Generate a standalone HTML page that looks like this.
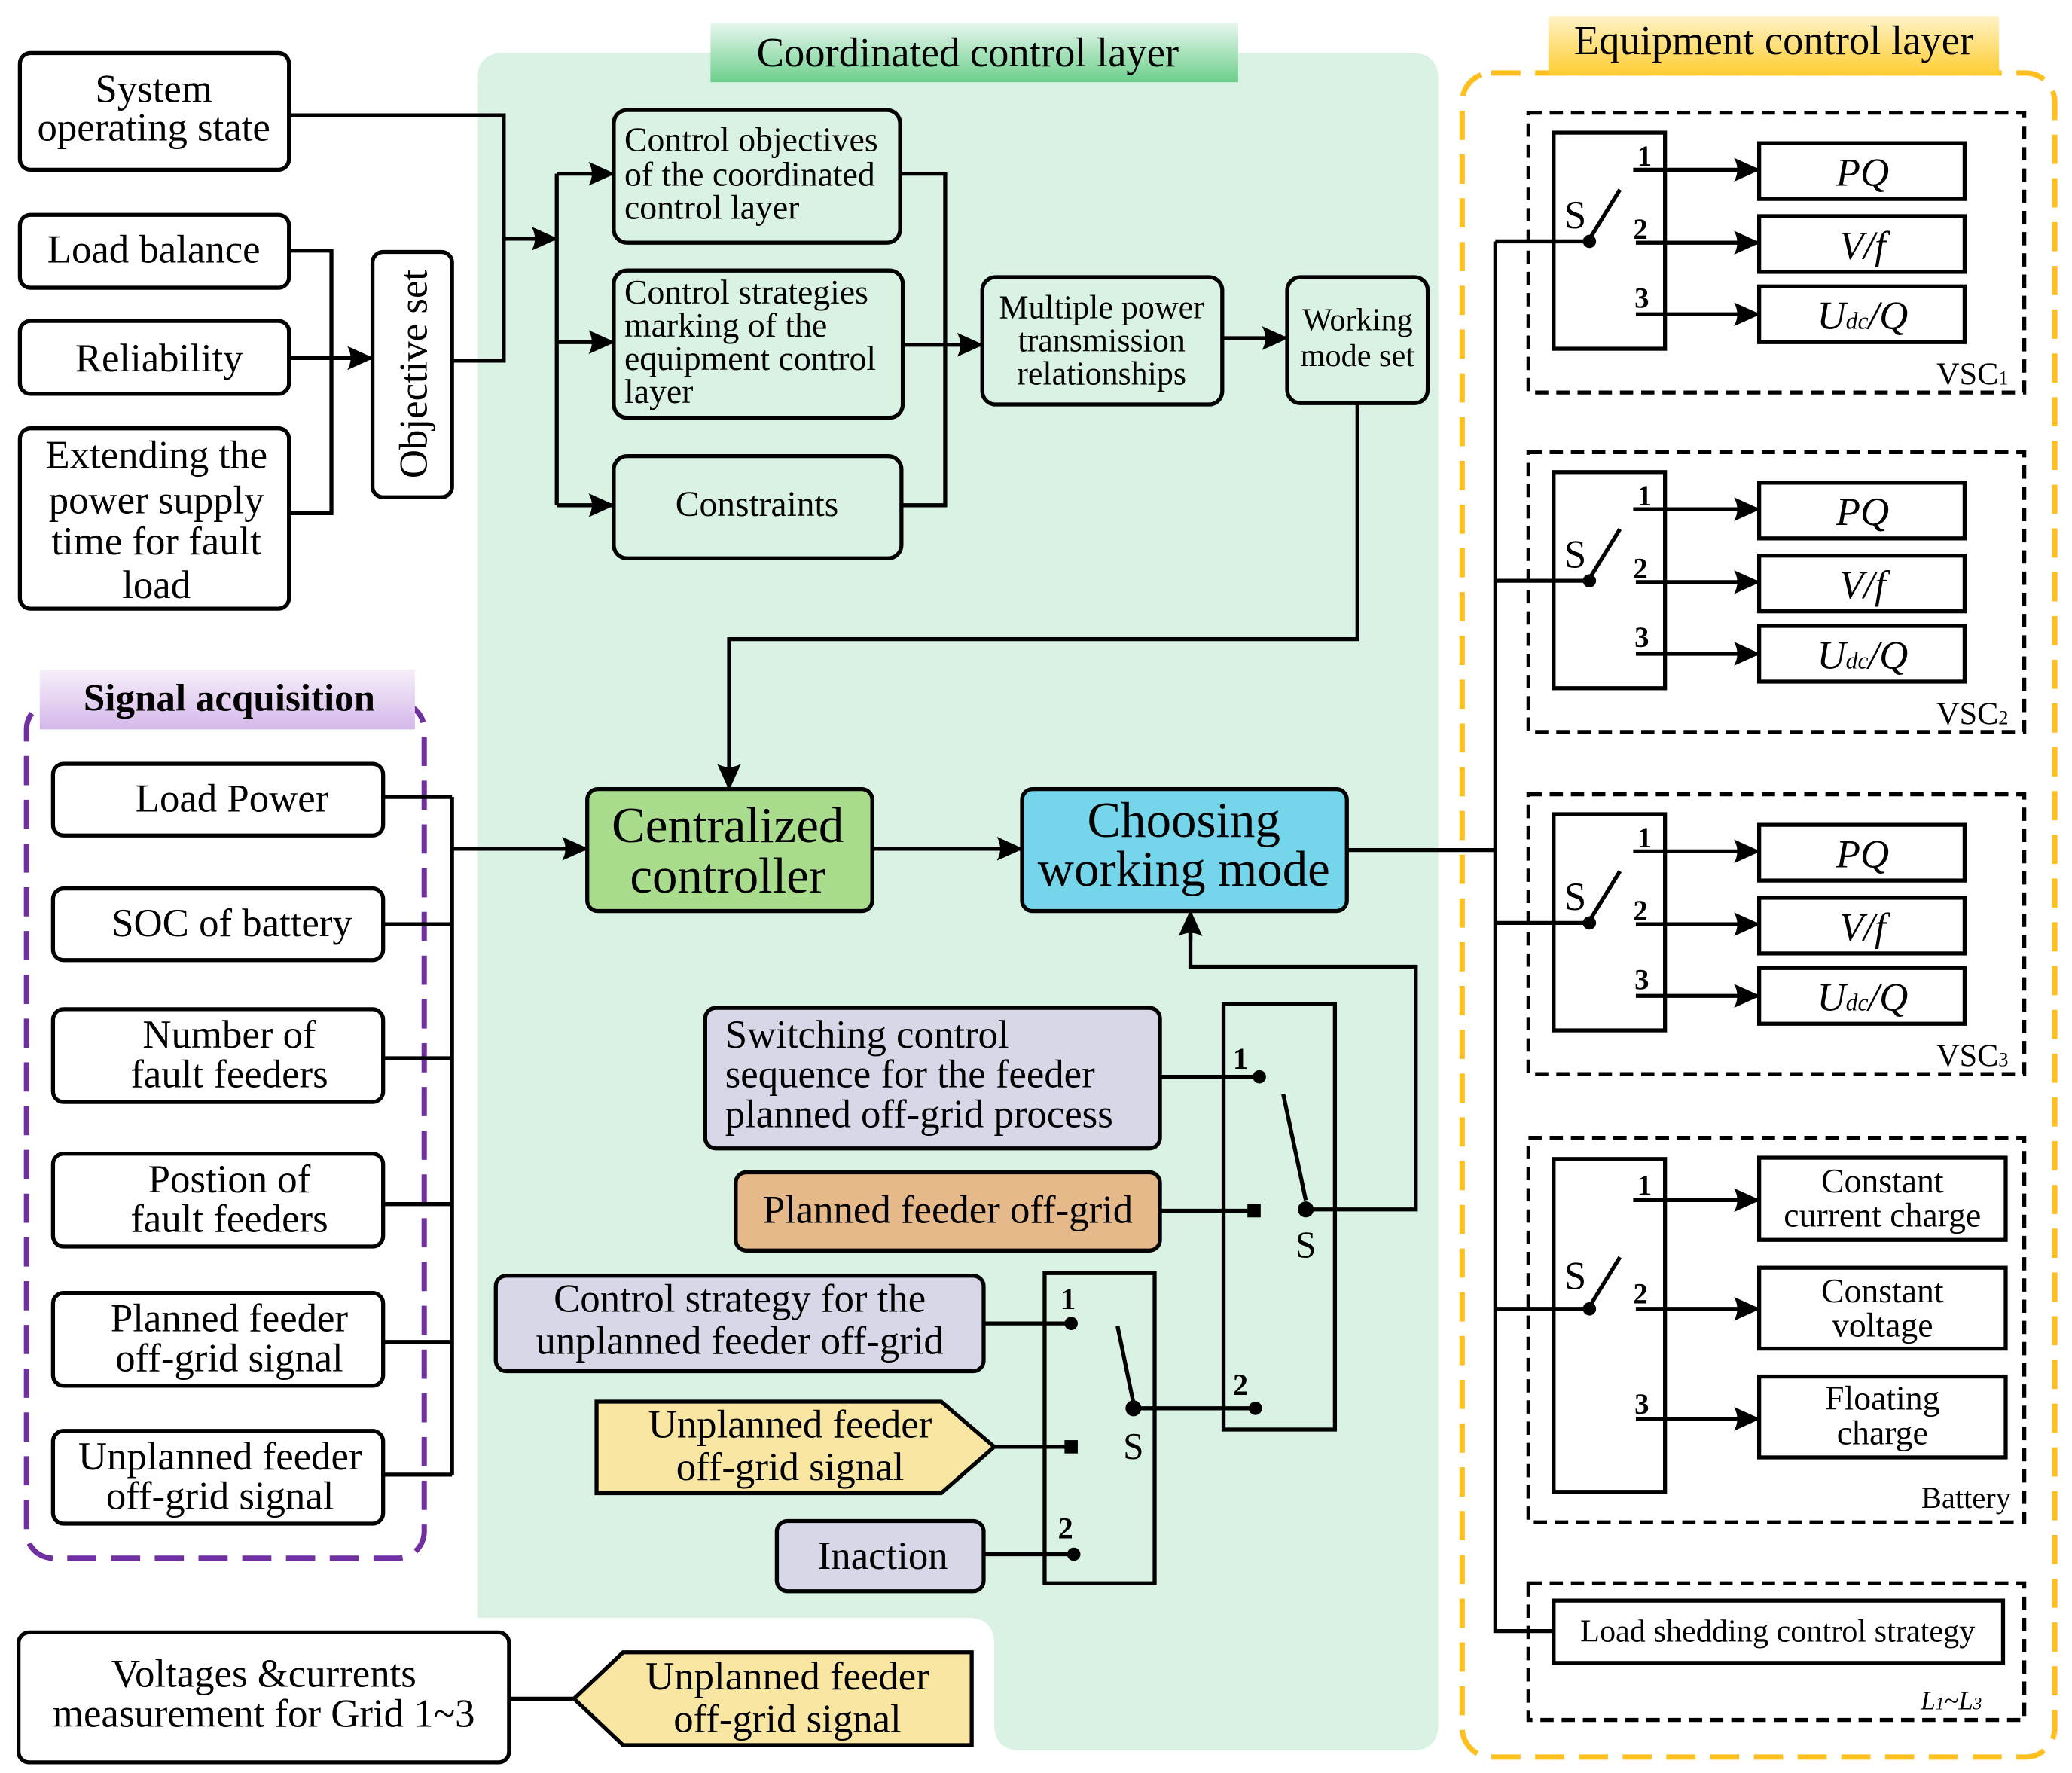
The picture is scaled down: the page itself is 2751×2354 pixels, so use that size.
<!DOCTYPE html>
<html><head><meta charset="utf-8"><style>
html,body{margin:0;padding:0;background:#fff}
svg{display:block}
text{font-family:"Liberation Serif","Times New Roman",serif;fill:#000}
</style></head><body>
<svg width="2751" height="2354" viewBox="0 0 1563 1337" preserveAspectRatio="none" xmlns="http://www.w3.org/2000/svg">
<defs>
<marker id="a" markerWidth="20" markerHeight="18" refX="19" refY="9" orient="auto" markerUnits="userSpaceOnUse" viewBox="0 0 20 18">
<path d="M0,0 L20,9 L0,18 Q5,9 0,0Z" fill="#000"/></marker>
<linearGradient id="gg" x1="0" y1="0" x2="0" y2="1"><stop offset="0" stop-color="#e8f7ee"/><stop offset="1" stop-color="#6ccf8c"/></linearGradient>
<linearGradient id="gy" x1="0" y1="0" x2="0" y2="1"><stop offset="0" stop-color="#fff3c8"/><stop offset="1" stop-color="#ffcc30"/></linearGradient>
<linearGradient id="gp" x1="0" y1="0" x2="0" y2="1"><stop offset="0" stop-color="#f6effa"/><stop offset="1" stop-color="#d5b8ea"/></linearGradient>
</defs>
<g stroke-linejoin="miter">
<path d="M380,40 H1065 Q1085,40 1085,60 V1300 Q1085,1320 1065,1320 H770 Q750,1320 750,1300 V1240 Q750,1220 730,1220 H360 V60 Q360,40 380,40Z" fill="#d9f2e3"/>
<rect x="536" y="17" width="398" height="45" fill="url(#gg)"/>
<text x="730" y="50" font-size="31" text-anchor="middle">Coordinated control layer</text>

<rect x="1103" y="55" width="447" height="1270" rx="22" fill="none" stroke="#ffbf1f" stroke-width="4" stroke-dasharray="22,11"/>
<rect x="1168" y="12" width="340" height="45" fill="url(#gy)"/>
<text x="1338" y="41" font-size="31" text-anchor="middle">Equipment control layer</text>

<rect x="20" y="530" width="300" height="645" rx="20" fill="none" stroke="#7030a0" stroke-width="4" stroke-dasharray="22,11"/>
<rect x="30" y="505" width="283" height="45" fill="url(#gp)"/>
<text x="173" y="536" font-size="29" font-weight="bold" text-anchor="middle">Signal acquisition</text>

<g fill="#fff" stroke="#000" stroke-width="3">
<rect x="15" y="40" width="203" height="88" rx="8"/>
<rect x="15" y="162" width="203" height="55" rx="8"/>
<rect x="15" y="242" width="203" height="55" rx="8"/>
<rect x="15" y="323" width="203" height="136" rx="8"/>
<rect x="281" y="190" width="60" height="185" rx="8"/>
<rect x="40" y="576" width="249" height="54" rx="8"/>
<rect x="40" y="670" width="249" height="54" rx="8"/>
<rect x="40" y="761" width="249" height="70" rx="8"/>
<rect x="40" y="870" width="249" height="70" rx="8"/>
<rect x="40" y="975" width="249" height="70" rx="8"/>
<rect x="40" y="1079" width="249" height="70" rx="8"/>
<rect x="14" y="1231" width="370" height="98" rx="8"/>
</g>
<g fill="none" stroke="#000" stroke-width="3">
<rect x="463" y="83" width="216" height="100" rx="10"/>
<rect x="463" y="204" width="218" height="111" rx="10"/>
<rect x="463" y="344" width="217" height="77" rx="10"/>
<rect x="741" y="209" width="181" height="96" rx="10"/>
<rect x="971" y="209" width="106" height="95" rx="10"/>
<rect x="443" y="595" width="215" height="92" rx="8" fill="#a9dc8d"/>
<rect x="771" y="595" width="245" height="92" rx="8" fill="#75d5ea"/>
<rect x="532" y="760" width="343" height="106" rx="8" fill="#d7d7e8"/>
<rect x="555" y="884" width="320" height="59" rx="8" fill="#e6b98b"/>
<rect x="374" y="962" width="368" height="72" rx="8" fill="#d7d7e8"/>
<path d="M450,1057 H710 L750,1091 L710,1126 H450Z" fill="#f8e6a2"/>
<rect x="586" y="1147" width="156" height="53" rx="8" fill="#d7d7e8"/>
<path d="M433,1281 L470,1246 H733 V1316 H470Z" fill="#f8e6a2"/>
<rect x="923" y="757" width="84" height="321"/>
<rect x="788" y="960" width="83" height="234"/>
</g>

<g fill="none" stroke="#000" stroke-width="3">
<path d="M218,87 H380 V272 H341"/>
<path d="M380,180 H420" marker-end="url(#a)"/>
<path d="M420,131 V381"/>
<path d="M420,131 H463" marker-end="url(#a)"/>
<path d="M420,258 H463" marker-end="url(#a)"/>
<path d="M420,381 H463" marker-end="url(#a)"/>
<path d="M218,189 H250 V387 H218"/>
<path d="M218,270 H281" marker-end="url(#a)"/>
<path d="M679,131 H713 V381 H680"/>
<path d="M681,260 H741" marker-end="url(#a)"/>
<path d="M922,255 H971" marker-end="url(#a)"/>
<path d="M1024,304 V482 H550 V595" marker-end="url(#a)"/>
<path d="M289,601 H341 M289,697 H341 M289,798 H341 M289,908 H341 M289,1012 H341 M289,1112 H341 M341,601 V1112"/>
<path d="M341,640 H443" marker-end="url(#a)"/>
<path d="M658,640 H771" marker-end="url(#a)"/>
<path d="M1016,641 H1128 M1128,182 V1230 H1172"/>
<path d="M875,812 H950 M875,913 H946 M968,825 L985,905 M985,912 H1068 V729 H898 V700" />
<path d="M898,710 V687" marker-end="url(#a)"/>
<path d="M855,1062 H947 M742,998 H808 M750,1091 H808 M742,1172 H810 M843,1000 L855,1058"/>
<path d="M384,1281 H433"/>
</g>
<g fill="#000">
<circle cx="950" cy="812" r="5"/><rect x="941" y="908" width="10" height="10"/><circle cx="985" cy="912" r="6"/><circle cx="947" cy="1062" r="5"/>
<circle cx="808" cy="998" r="5"/><rect x="803" y="1086" width="10" height="10"/><circle cx="810" cy="1172" r="5"/><circle cx="855" cy="1062" r="6"/>
</g>
<g font-size="23" font-weight="bold">
<text x="930" y="806">1</text><text x="930" y="1052">2</text><text x="800" y="987">1</text><text x="798" y="1160">2</text>
</g>
<text x="985" y="948" font-size="28" text-anchor="middle">S</text>
<text x="855" y="1100" font-size="28" text-anchor="middle">S</text>

<g id="vsc">
<rect x="1153" y="85" width="374" height="211" fill="none" stroke="#000" stroke-width="3" stroke-dasharray="10,6"/>
<rect x="1172" y="100" width="84" height="163" fill="none" stroke="#000" stroke-width="3"/>
<path d="M1128,182 H1198 M1198,182 L1222,143" stroke="#000" stroke-width="3"/>
<circle cx="1199" cy="182" r="5"/>
<text x="1180" y="172" font-size="30">S</text>
<g stroke="#000" stroke-width="3"><path d="M1232,128 H1327" marker-end="url(#a)"/><path d="M1234,183 H1327" marker-end="url(#a)"/><path d="M1234,237 H1327" marker-end="url(#a)"/></g>
<g font-size="22" font-weight="bold"><text x="1235" y="125">1</text><text x="1232" y="180">2</text><text x="1233" y="232">3</text></g>
<g fill="#fff" stroke="#000" stroke-width="3"><rect x="1327" y="108" width="155" height="42"/><rect x="1327" y="163" width="155" height="42"/><rect x="1327" y="216" width="155" height="42"/></g>
<g font-size="30" font-style="italic" text-anchor="middle"><text x="1405" y="140">PQ</text><text x="1405" y="195">V/f</text><text x="1405" y="248">U<tspan font-size="18">dc</tspan>/Q</text></g>
</g>
<use href="#vsc" y="256"/>
<use href="#vsc" y="514"/>
<g font-size="24" text-anchor="end"><text x="1515" y="290">VSC<tspan font-size="15">1</tspan></text><text x="1515" y="546">VSC<tspan font-size="15">2</tspan></text><text x="1515" y="804">VSC<tspan font-size="15">3</tspan></text></g>

<rect x="1153" y="858" width="374" height="290" fill="none" stroke="#000" stroke-width="3" stroke-dasharray="10,6"/>
<rect x="1172" y="874" width="84" height="251" fill="none" stroke="#000" stroke-width="3"/>
<path d="M1128,987 H1198 M1198,987 L1222,948" stroke="#000" stroke-width="3"/>
<circle cx="1199" cy="987" r="5"/>
<text x="1180" y="972" font-size="30">S</text>
<g stroke="#000" stroke-width="3"><path d="M1232,905 H1327" marker-end="url(#a)"/><path d="M1234,987 H1327" marker-end="url(#a)"/><path d="M1234,1070 H1327" marker-end="url(#a)"/></g>
<g font-size="22" font-weight="bold"><text x="1235" y="901">1</text><text x="1232" y="983">2</text><text x="1233" y="1066">3</text></g>
<g fill="#fff" stroke="#000" stroke-width="3"><rect x="1327" y="873" width="186" height="62"/><rect x="1327" y="956" width="186" height="61"/><rect x="1327" y="1038" width="186" height="61"/></g>
<g font-size="26" text-anchor="middle"><text x="1420" y="899">Constant</text><text x="1420" y="925">current charge</text><text x="1420" y="982">Constant</text><text x="1420" y="1008">voltage</text><text x="1420" y="1063">Floating</text><text x="1420" y="1089">charge</text></g>
<text x="1517" y="1137" font-size="23" text-anchor="end">Battery</text>

<rect x="1153" y="1194" width="374" height="103" fill="none" stroke="#000" stroke-width="3" stroke-dasharray="10,6"/>
<rect x="1172" y="1207" width="339" height="47" fill="#fff" stroke="#000" stroke-width="3"/>
<text x="1341" y="1238" font-size="24" text-anchor="middle">Load shedding control strategy</text>
<text x="1495" y="1289" font-size="20" font-style="italic" text-anchor="end">L<tspan font-size="13">1</tspan>~L<tspan font-size="13">3</tspan></text>
</g>

<g font-size="30" text-anchor="middle">
<text x="116" y="77">System</text><text x="116" y="106">operating state</text>
<text x="116" y="198">Load balance</text>
<text x="120" y="280">Reliability</text>
<text x="118" y="353">Extending the</text><text x="118" y="387">power supply</text><text x="118" y="418">time for fault</text><text x="118" y="451">load</text>
<text transform="translate(322,282) rotate(-90)">Objective set</text>
<text x="175" y="612">Load Power</text>
<text x="175" y="706">SOC of battery</text>
<text x="173" y="790">Number of</text><text x="173" y="820">fault feeders</text>
<text x="173" y="899">Postion of</text><text x="173" y="929">fault feeders</text>
<text x="173" y="1004">Planned feeder</text><text x="173" y="1034">off-grid signal</text>
<text x="166" y="1108">Unplanned feeder</text><text x="166" y="1138">off-grid signal</text>
<text x="199" y="1272">Voltages &amp;currents</text><text x="199" y="1302">measurement for Grid 1~3</text>
<text x="594" y="1274">Unplanned feeder</text><text x="594" y="1306">off-grid signal</text>
<text x="571" y="389" font-size="27">Constraints</text>
<text x="715" y="922">Planned feeder off-grid</text>
<text x="558" y="989">Control strategy for the</text><text x="558" y="1021">unplanned feeder off-grid</text>
<text x="596" y="1084">Unplanned feeder</text><text x="596" y="1116">off-grid signal</text>
<text x="666" y="1183">Inaction</text>
<text x="549" y="635" font-size="38">Centralized</text><text x="549" y="673" font-size="38">controller</text>
<text x="893" y="631" font-size="38">Choosing</text><text x="893" y="668" font-size="38">working mode</text>
<text x="831" y="240" font-size="25">Multiple power</text><text x="831" y="265" font-size="25">transmission</text><text x="831" y="290" font-size="25">relationships</text>
<text x="1024" y="249" font-size="24">Working</text><text x="1024" y="276" font-size="24">mode set</text>
</g>
<g font-size="26">
<text x="471" y="114">Control objectives</text><text x="471" y="140">of the coordinated</text><text x="471" y="165">control layer</text>
<text x="471" y="229">Control strategies</text><text x="471" y="254">marking of the</text><text x="471" y="279">equipment control</text><text x="471" y="304">layer</text>
<text x="547" y="790" font-size="30">Switching control</text><text x="547" y="820" font-size="30">sequence for the feeder</text><text x="547" y="850" font-size="30">planned off-grid process</text>
</g>
</svg>
</body></html>
